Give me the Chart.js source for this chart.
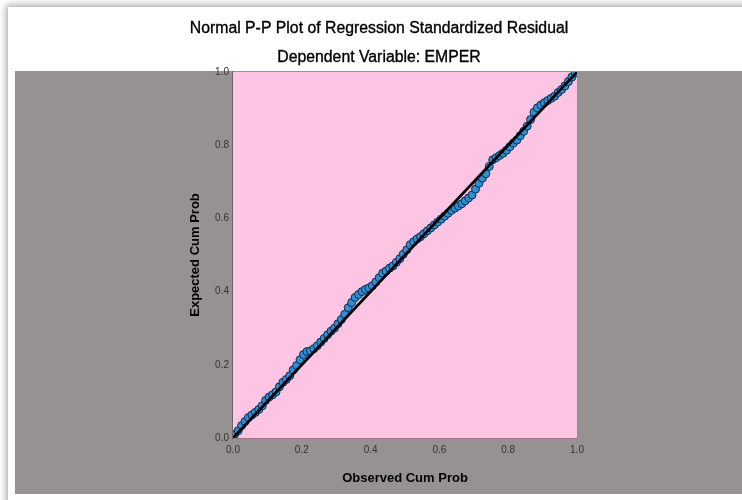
<!DOCTYPE html>
<html>
<head>
<meta charset="utf-8">
<script src="https://cdn.jsdelivr.net/npm/chart.js@4/dist/chart.umd.min.js"></script>
<style>
  html, body { margin: 0; padding: 0; background: #fff; }
  body { width: 742px; height: 500px; position: relative; overflow: hidden; }
  /* screenshot frame: white card with a soft shadow on the top/left edge */
  .card { position: absolute; left: 8px; top: 7px; width: 760px; height: 510px; background: #fff;
          box-shadow: 0 0 7px 2px rgba(0,0,0,0.35); }
  .panel { position: absolute; left: 15px; top: 71px; width: 727px; height: 423px; background: #969292; }
  canvas { position: absolute; left: 0; top: 0; }
</style>
</head>
<body>
<div class="card"></div>
<div class="panel"></div>
<canvas id="chart" width="742" height="500"></canvas>
<script>
// Normal P-P plot (SPSS style) — observed vs expected cumulative probability
const TITLE = 'Normal P-P Plot of Regression Standardized Residual';
const SUBTITLE = 'Dependent Variable: EMPER';
const X_LABEL = 'Observed Cum Prob';
const Y_LABEL = 'Expected Cum Prob';
const TICKS = [0, 0.2, 0.4, 0.6, 0.8, 1.0];

const observed = [
  0.005, 0.015, 0.025, 0.035, 0.045, 0.055, 0.065, 0.075, 0.085, 0.095,
  0.105, 0.115, 0.125, 0.135, 0.145, 0.155, 0.165, 0.175, 0.185, 0.195,
  0.205, 0.215, 0.225, 0.235, 0.245, 0.255, 0.265, 0.275, 0.285, 0.295,
  0.305, 0.315, 0.325, 0.335, 0.345, 0.355, 0.365, 0.375, 0.385, 0.395,
  0.405, 0.415, 0.425, 0.435, 0.445, 0.455, 0.465, 0.475, 0.485, 0.495,
  0.505, 0.515, 0.525, 0.535, 0.545, 0.555, 0.565, 0.575, 0.585, 0.595,
  0.605, 0.615, 0.625, 0.635, 0.645, 0.655, 0.665, 0.675, 0.685, 0.695,
  0.705, 0.715, 0.725, 0.735, 0.745, 0.755, 0.765, 0.775, 0.785, 0.795,
  0.805, 0.815, 0.825, 0.835, 0.845, 0.855, 0.865, 0.875, 0.885, 0.895,
  0.905, 0.915, 0.925, 0.935, 0.945, 0.955, 0.965, 0.975, 0.985, 0.995
];
const expected = [
  0.010, 0.020, 0.034, 0.045, 0.056, 0.063, 0.070, 0.078, 0.088, 0.103,
  0.112, 0.118, 0.126, 0.140, 0.152, 0.160, 0.170, 0.186, 0.198, 0.214,
  0.228, 0.236, 0.238, 0.244, 0.252, 0.262, 0.272, 0.282, 0.292, 0.300,
  0.312, 0.324, 0.338, 0.356, 0.370, 0.384, 0.392, 0.400, 0.406, 0.410,
  0.416, 0.426, 0.438, 0.450, 0.456, 0.464, 0.470, 0.480, 0.490, 0.502,
  0.514, 0.528, 0.536, 0.544, 0.550, 0.558, 0.566, 0.574, 0.582, 0.590,
  0.598, 0.606, 0.614, 0.622, 0.628, 0.634, 0.640, 0.648, 0.656, 0.664,
  0.680, 0.696, 0.710, 0.722, 0.742, 0.760, 0.766, 0.772, 0.778, 0.786,
  0.796, 0.806, 0.814, 0.826, 0.838, 0.852, 0.870, 0.890, 0.902, 0.910,
  0.916, 0.922, 0.928, 0.934, 0.944, 0.952, 0.962, 0.974, 0.986, 0.998
];
// reference diagonal
const refLine = [0, 1];

const PINK = '#fdc4e3';

// fills the plot area pink and writes the two title lines
const framePlugin = {
  id: 'frame',
  beforeDatasetsDraw(chart) {
    const { ctx, chartArea: a } = chart;
    ctx.save();
    ctx.fillStyle = PINK;
    ctx.fillRect(a.left, a.top, a.right - a.left, a.bottom - a.top);
    ctx.restore();
  },
  afterDraw(chart) {
    const { ctx } = chart;
    ctx.save();
    ctx.fillStyle = '#000';
    ctx.strokeStyle = '#000';
    ctx.lineWidth = 0.35;
    ctx.textAlign = 'center';
    ctx.textBaseline = 'middle';
    ctx.font = '15.8px "Liberation Sans", Arial, sans-serif';
    [[TITLE, 29], [SUBTITLE, 58]].forEach(([t, y]) => {
      ctx.fillText(t, 379, y);
      ctx.strokeText(t, 379, y);
    });
    ctx.restore();
  },
};

const tickFont = { family: '"Liberation Sans", Arial, sans-serif', size: 10 };
const titleFont = { family: '"Liberation Sans", Arial, sans-serif', size: 13, weight: 'bold' };

new Chart(document.getElementById('chart'), {
  type: 'scatter',
  data: {
    datasets: [
      {
        type: 'line',
        data: refLine.map(v => ({ x: v, y: v })),
        borderColor: '#000',
        borderWidth: 2.8,
        pointRadius: 0,
        order: 0,
      },
      {
        data: observed.map((x, i) => ({ x, y: expected[i] })),
        backgroundColor: '#2b90d6',
        borderColor: '#0f2b48',
        borderWidth: 1,
        pointRadius: 4,
        order: 1,
      },
    ],
  },
  options: {
    animation: false,
    responsive: false,
    layout: { padding: { left: 180, top: 72, right: 165, bottom: 0 } },
    scales: {
      x: {
        type: 'linear', min: 0, max: 1,
        afterFit(s) { s.height = 62; },
        afterBuildTicks(s) { s.ticks = TICKS.map(v => ({ value: v })); },
        grid: { display: false, drawTicks: false },
        border: { display: true, color: '#a27484', width: 2 },
        ticks: { font: tickFont, color: '#333', padding: 6, maxRotation: 0,
                 callback: v => v.toFixed(1) },
        title: { display: true, text: X_LABEL, font: titleFont, color: '#000',
                 padding: { top: 0, bottom: 14 } },
      },
      y: {
        type: 'linear', min: 0, max: 1,
        afterFit(s) { s.width = 53; },
        afterBuildTicks(s) { s.ticks = TICKS.map(v => ({ value: v })); },
        grid: { display: false, drawTicks: false },
        border: { display: true, color: '#6e6468', width: 1.5 },
        ticks: { font: tickFont, color: '#333', padding: 4,
                 callback: v => v.toFixed(1) },
        title: { display: true, text: Y_LABEL, font: titleFont, color: '#000',
                 padding: { top: 8, bottom: 0 } },
      },
    },
    plugins: { legend: { display: false }, tooltip: { enabled: false } },
  },
  plugins: [framePlugin],
});
</script>
</body>
</html>
